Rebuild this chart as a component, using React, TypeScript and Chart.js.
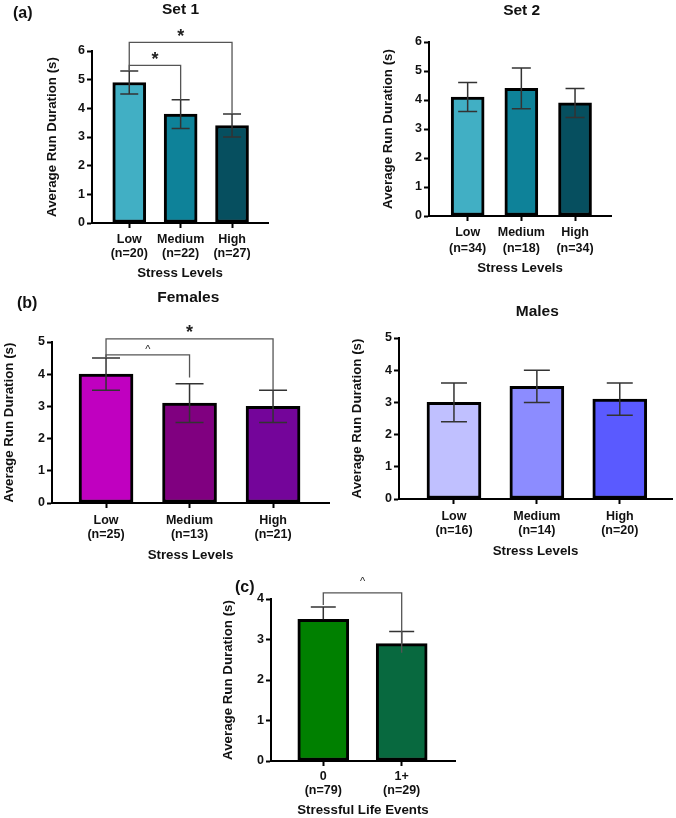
import React, { useEffect, useRef } from "react";
import { Chart, registerables } from "chart.js";

Chart.register(...registerables);

const FONT = "'Liberation Sans', Arial, Helvetica, sans-serif";
const TEXT = "#111";

// ---------- data ----------
// (a) Set 1
const set1Labels = [["Low", "(n=20)"], ["Medium", "(n=22)"], ["High", "(n=27)"]];
const set1Values = [4.9, 3.8, 3.4];
const set1Errors = [0.4, 0.5, 0.4];
// (a) Set 2
const set2Labels = [["Low", "(n=34)"], ["Medium", "(n=18)"], ["High", "(n=34)"]];
const set2Values = [4.1, 4.4, 3.9];
const set2Errors = [0.5, 0.7, 0.5];
// (b) Females
const femaleLabels = [["Low", "(n=25)"], ["Medium", "(n=13)"], ["High", "(n=21)"]];
const femaleValues = [4.0, 3.1, 3.0];
const femaleErrors = [0.5, 0.6, 0.5];
// (b) Males
const maleLabels = [["Low", "(n=16)"], ["Medium", "(n=14)"], ["High", "(n=20)"]];
const maleValues = [3.0, 3.5, 3.1];
const maleErrors = [0.6, 0.5, 0.5];
// (c) Stressful life events
const eventLabels = [["0", "(n=79)"], ["1+", "(n=29)"]];
const eventValues = [3.5, 2.9];
const eventErrors = [0.3, 0.3];

// significance brackets (y values in data units)
const set1Brackets = [
  { from: 0, to: 1, top: 5.5, leftEnd: 5.3, rightEnd: 4.3, mark: "*" },
  { from: 0, to: 2, top: 6.3, leftEnd: 5.3, rightEnd: 3.8, mark: "*" },
];
const femaleBrackets = [
  { from: 0, to: 1, top: 4.6, leftEnd: 4.5, rightEnd: 3.9, mark: "^" },
  { from: 0, to: 2, top: 5.1, leftEnd: 4.5, rightEnd: 3.5, mark: "*" },
];
const eventBrackets = [{ from: 0, to: 1, top: 4.15, leftEnd: 3.85, rightEnd: 2.67, mark: "^" }];

// ---------- styles ----------
const setColors = ["#41AFC4", "#0E8299", "#064F5F"];
const femaleColors = ["#C000C0", "#800080", "#74059A"];
const maleColors = ["#C0C0FF", "#8C8CFF", "#5A5AFF"];
const eventColors = ["#008000", "#08693F"];

const TITLE_SIZE = 13.3;
const X_TICK_LEN = 5;

type Bracket = { from: number; to: number; top: number; leftEnd: number; rightEnd: number; mark: string };
type Spec = {
  box: { left: number; top: number; width: number; height: number };
  area: { left: number; right: number; top: number; bottom: number };
  labels: string[][];
  values: number[];
  errors: number[];
  colors: string[];
  yMax: number;
  xMin: number;
  xMax: number;
  barWidth: number;
  capWidth: number;
  yTitleX: number;
  xTitle: string;
  xTitleY: number;
  firstTickY: number;
  tickLine: number;
  brackets: Bracket[];
  markGaps: number[];
  upperOnly?: boolean;
};

function PanelChart({ s }: { s: Spec }) {
  const ref = useRef<HTMLCanvasElement>(null);
  useEffect(() => {
    const lhT = TITLE_SIZE * 1.2;
    const padLeft = s.yTitleX - s.box.left - lhT / 2;
    const yWidth = s.area.left - s.box.left - padLeft;
    const padTop = s.area.top - s.box.top;
    const padRight = s.box.left + s.box.width - s.area.right;
    const xHeight = s.xTitleY - s.area.bottom + lhT / 2;
    const padBottom = s.box.top + s.box.height - s.area.bottom - xHeight;
    const tickPad = s.firstTickY - s.area.bottom - X_TICK_LEN - s.tickLine / 2;

    const overlay = {
      id: "overlay",
      afterDatasetsDraw(chart: any) {
        const { ctx } = chart;
        const x = chart.scales.x;
        const y = chart.scales.y;
        ctx.save();
        ctx.strokeStyle = "#333";
        ctx.lineWidth = 1.5;
        const cap = s.capWidth;
        s.values.forEach((v, i) => {
          const px = x.getPixelForValue(i);
          const yt = y.getPixelForValue(v + s.errors[i]);
          const yb = y.getPixelForValue(s.upperOnly ? v : v - s.errors[i]);
          ctx.beginPath();
          ctx.moveTo(px, yt);
          ctx.lineTo(px, yb);
          ctx.moveTo(px - cap / 2, yt);
          ctx.lineTo(px + cap / 2, yt);
          if (!s.upperOnly) {
            ctx.moveTo(px - cap / 2, yb);
            ctx.lineTo(px + cap / 2, yb);
          }
          ctx.stroke();
        });
        ctx.strokeStyle = "#555";
        ctx.lineWidth = 1.3;
        s.brackets.forEach((b, k) => {
          const x1 = x.getPixelForValue(b.from);
          const x2 = x.getPixelForValue(b.to);
          const yTop = y.getPixelForValue(b.top);
          ctx.beginPath();
          ctx.moveTo(x1, y.getPixelForValue(b.leftEnd));
          ctx.lineTo(x1, yTop);
          ctx.lineTo(x2, yTop);
          ctx.lineTo(x2, y.getPixelForValue(b.rightEnd));
          ctx.stroke();
          const cx = (x1 + x2) / 2;
          const inkCenter = yTop - s.markGaps[k];
          ctx.fillStyle = "#222";
          ctx.textAlign = "center";
          ctx.textBaseline = "alphabetic";
          if (b.mark === "*") {
            ctx.font = `bold 18px ${FONT}`;
            ctx.fillText("*", cx, inkCenter + 10);
          } else {
            ctx.font = `11px ${FONT}`;
            ctx.fillText(b.mark, cx, inkCenter + 5.8);
          }
        });
        ctx.restore();
      },
    };

    const chart = new Chart(ref.current as HTMLCanvasElement, {
      type: "bar",
      data: {
        datasets: [
          {
            data: s.values.map((v, i) => ({ x: i, y: v })) as any,
            backgroundColor: s.colors,
            borderColor: "#000",
            borderWidth: 3,
            borderSkipped: false,
            barThickness: s.barWidth,
          },
        ],
      },
      options: {
        animation: false,
        responsive: false,
        maintainAspectRatio: false,
        layout: { padding: { left: padLeft, top: padTop, right: padRight, bottom: padBottom } },
        plugins: { legend: { display: false }, tooltip: { enabled: false }, title: { display: false } },
        scales: {
          x: {
            type: "linear",
            min: s.xMin,
            max: s.xMax,
            offset: false,
            afterBuildTicks: (axis: any) => {
              axis.ticks = s.values.map((_, i) => ({ value: i }));
            },
            afterFit: (sc: any) => {
              sc.height = xHeight;
            },
            ticks: {
              callback: (v: any) => s.labels[v as number],
              font: { family: FONT, size: 12.5, weight: "bold", lineHeight: s.tickLine / 12.5 },
              color: TEXT,
              padding: tickPad,
              maxRotation: 0,
              autoSkip: false,
            },
            grid: { offset: false, drawOnChartArea: false, drawTicks: true, tickLength: X_TICK_LEN, tickWidth: 2, tickColor: "#000" },
            border: { display: true, color: "#000", width: 2 },
            title: {
              display: true,
              text: s.xTitle,
              font: { family: FONT, size: TITLE_SIZE, weight: "bold" },
              color: TEXT,
              padding: { top: 0, bottom: 0 },
            },
          },
          y: {
            min: 0,
            max: s.yMax,
            afterFit: (sc: any) => {
              sc.width = yWidth;
            },
            ticks: { stepSize: 1, font: { family: FONT, size: 12.5, weight: "bold" }, color: TEXT, padding: 2 },
            grid: { drawOnChartArea: false, drawTicks: true, tickLength: 5, tickWidth: 2, tickColor: "#000" },
            border: { display: true, color: "#000", width: 2 },
            title: {
              display: true,
              text: "Average Run Duration (s)",
              font: { family: FONT, size: TITLE_SIZE, weight: "bold" },
              color: TEXT,
              padding: { top: 0, bottom: 0 },
            },
          },
        },
      } as any,
      plugins: [overlay],
    });
    return () => chart.destroy();
  }, [s]);
  return (
    <canvas
      ref={ref}
      width={s.box.width}
      height={s.box.height}
      style={{ position: "absolute", left: s.box.left, top: s.box.top, width: s.box.width, height: s.box.height }}
    />
  );
}

const panels: Spec[] = [
  {
    box: { left: 0, top: 0, width: 300, height: 290 },
    area: { left: 92, right: 268, top: 51, bottom: 223 },
    labels: set1Labels, values: set1Values, errors: set1Errors, colors: setColors,
    yMax: 6, xMin: -0.725, xMax: 2.7, barWidth: 33, capWidth: 18,
    yTitleX: 52, xTitle: "Stress Levels", xTitleY: 273, firstTickY: 240, tickLine: 13.7,
    brackets: set1Brackets, markGaps: [10.6, 10.4],
  },
  {
    box: { left: 330, top: 0, width: 346, height: 290 },
    area: { left: 429, right: 611, top: 42, bottom: 216 },
    labels: set2Labels, values: set2Values, errors: set2Errors, colors: setColors,
    yMax: 6, xMin: -0.72, xMax: 2.67, barWidth: 33, capWidth: 19,
    yTitleX: 388, xTitle: "Stress Levels", xTitleY: 268, firstTickY: 232.5, tickLine: 15.8,
    brackets: [], markGaps: [],
  },
  {
    box: { left: 0, top: 290, width: 340, height: 280 },
    area: { left: 52, right: 329, top: 342, bottom: 503 },
    labels: femaleLabels, values: femaleValues, errors: femaleErrors, colors: femaleColors,
    yMax: 5, xMin: -0.647, xMax: 2.67, barWidth: 54, capWidth: 28,
    yTitleX: 9, xTitle: "Stress Levels", xTitleY: 555, firstTickY: 520.3, tickLine: 14.2,
    brackets: femaleBrackets, markGaps: [8, 11],
  },
  {
    box: { left: 340, top: 290, width: 336, height: 280 },
    area: { left: 399, right: 672, top: 338, bottom: 499 },
    labels: maleLabels, values: maleValues, errors: maleErrors, colors: maleColors,
    yMax: 5, xMin: -0.663, xMax: 2.63, barWidth: 54, capWidth: 26,
    yTitleX: 357, xTitle: "Stress Levels", xTitleY: 551, firstTickY: 516.2, tickLine: 14.6,
    brackets: [], markGaps: [],
  },
  {
    box: { left: 200, top: 565, width: 300, height: 253 },
    area: { left: 271, right: 455, top: 599, bottom: 761 },
    labels: eventLabels, values: eventValues, errors: eventErrors, colors: eventColors,
    yMax: 4, xMin: -0.667, xMax: 1.68, barWidth: 51, capWidth: 25,
    yTitleX: 228, xTitle: "Stressful Life Events", xTitleY: 810, firstTickY: 776.7, tickLine: 14,
    brackets: eventBrackets, markGaps: [13.5], upperOnly: true,
  },
];

const texts = [
  { text: "(a)", x: 13, y: 13, size: 16, center: false },
  { text: "(b)", x: 17, y: 302.5, size: 16, center: false },
  { text: "(c)", x: 235, y: 587, size: 16, center: false },
  { text: "Set 1", x: 180.5, y: 9.2, size: 15.5, center: true },
  { text: "Set 2", x: 521.7, y: 10, size: 15.5, center: true },
  { text: "Females", x: 188.3, y: 296.5, size: 15.5, center: true },
  { text: "Males", x: 537.3, y: 310.8, size: 15.5, center: true },
];

export default function App() {
  return (
    <div style={{ position: "absolute", left: 0, top: 0, width: 676, height: 818, background: "#fff", fontFamily: FONT, color: TEXT, overflow: "hidden" }}>
      {panels.map((p, i) => (
        <PanelChart key={i} s={p} />
      ))}
      {texts.map((t, i) => (
        <div
          key={"t" + i}
          style={{
            position: "absolute",
            left: t.x,
            top: t.y,
            transform: t.center ? "translate(-50%, -50%)" : "translate(0, -50%)",
            fontSize: t.size,
            fontWeight: "bold",
            lineHeight: 1,
            whiteSpace: "nowrap",
          }}
        >
          {t.text}
        </div>
      ))}
    </div>
  );
}
